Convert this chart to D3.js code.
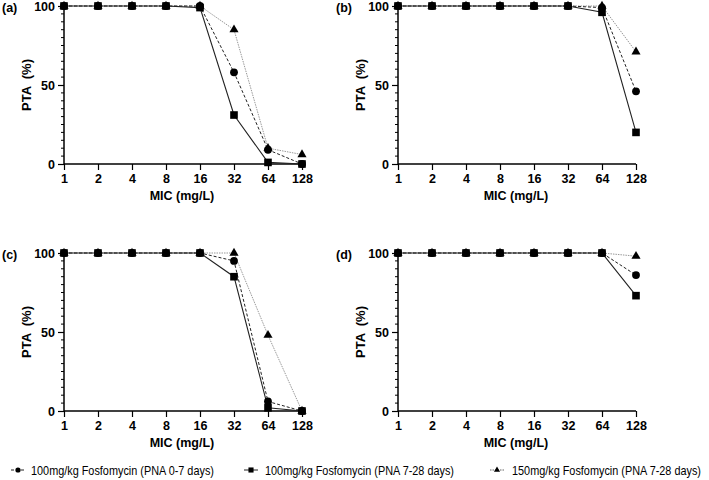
<!DOCTYPE html>
<html><head><meta charset="utf-8">
<script src="https://cdn.jsdelivr.net/npm/d3@7"></script>
<style>body{margin:0;background:#fff}svg{display:block}</style>
</head><body>
<svg id="c" width="709" height="480"></svg>
<script>
const categories = ["1","2","4","8","16","32","64","128"];
const yTicks = [0,50,100];
const seriesNames = ["100mg/kg Fosfomycin (PNA 0-7 days)","100mg/kg Fosfomycin (PNA 7-28 days)","150mg/kg Fosfomycin (PNA 7-28 days)"];
const panelLabels = ["(a)","(b)","(c)","(d)"];
// values per panel: [circle(0-7 d, 100), square(7-28 d, 100), triangle(7-28 d, 150)]
const panelA = [[100,100,100,100,100,58,9,0],[100,100,100,100,99,31,1,0],[100,100,100,100,100,85,10,6]];
const panelB = [[100,100,100,100,100,100,99,46],[100,100,100,100,100,100,96,20],[100,100,100,100,100,100,100,71]];
const panelC = [[100,100,100,100,100,95,6,0],[100,100,100,100,100,85,2,0],[100,100,100,100,100,100,48,0]];
const panelD = [[100,100,100,100,100,100,100,86],[100,100,100,100,100,100,100,73],[100,100,100,100,100,100,100,98]];
const panels = [panelA,panelB,panelC,panelD];

const svg = d3.select("#c");
const W = 238, H = 158;
const origins = [[64,6],[398,6],[64,253],[398,253]];
const styles = [
  {stroke:"#222", dash:"3,2", width:1, sym:d3.symbolCircle, size:48},
  {stroke:"#222", dash:null, width:1.1, sym:d3.symbolSquare, size:58},
  {stroke:"#999", dash:"1.5,1", width:1, sym:d3.symbolTriangle, size:36}
];
const drawOrder = [2,0,1];
const x = d3.scalePoint().domain(categories).range([0,W]);
const y = d3.scaleLinear().domain([0,100]).range([H,0]);
const boldFont = "Liberation Sans, Arial, sans-serif";

panels.forEach((pdata,pi)=>{
  const [ox,oy] = origins[pi];
  const g = svg.append("g").attr("transform",`translate(${ox},${oy})`);
  const minor = d3.range(0,101,5).filter(v=>v%50!==0);
  g.selectAll(".mt").data(minor).enter().append("line")
    .attr("x1",-3).attr("x2",0).attr("y1",d=>y(d)).attr("y2",d=>y(d))
    .attr("stroke","#000").attr("stroke-width",1);
  const ya = g.append("g").call(d3.axisLeft(y).tickValues(yTicks).tickSize(6).tickPadding(3));
  ya.select(".domain").attr("stroke-width",1.5).attr("d",`M0,${H+0.5}V0`);
  ya.selectAll(".tick line").attr("stroke-width",1.2);
  ya.selectAll("text").attr("font-family",boldFont).attr("font-weight","bold").attr("font-size",12.5).attr("fill","#000");
  const xa = g.append("g").attr("transform",`translate(0,${H})`).call(d3.axisBottom(x).tickSize(6).tickPadding(4));
  xa.select(".domain").attr("stroke-width",1.5).attr("d",`M0,0H${W}`);
  xa.selectAll(".tick line").attr("stroke-width",1.2);
  xa.selectAll("text").attr("font-family",boldFont).attr("font-weight","bold").attr("font-size",12.5).attr("fill","#000");
  g.append("text").attr("x",W/2-1).attr("y",H+36).attr("text-anchor","middle")
    .attr("font-family",boldFont).attr("font-weight","bold").attr("font-size",12.5).text("MIC (mg/L)");
  g.append("text").attr("transform",`translate(-33,${H/2}) rotate(-90)`).attr("text-anchor","middle")
    .attr("font-family",boldFont).attr("font-weight","bold").attr("font-size",13).attr("xml:space","preserve").text("PTA  (%)");
  g.append("text").attr("x",-62).attr("y",6).attr("font-family",boldFont).attr("font-weight","bold").attr("font-size",12.5).text(panelLabels[pi]);
  const line = d3.line().x((d,i)=>x(categories[i])).y(d=>y(d));
  drawOrder.forEach(si=>{
    const st = styles[si];
    g.append("path").datum(pdata[si]).attr("d",line).attr("fill","none")
      .attr("stroke",st.stroke).attr("stroke-width",st.width).attr("stroke-dasharray",st.dash);
  });
  drawOrder.forEach(si=>{
    const st = styles[si];
    g.selectAll(null).data(pdata[si]).enter().append("path")
      .attr("d",d3.symbol().type(st.sym).size(st.size))
      .attr("transform",(d,i)=>`translate(${x(categories[i])},${y(d)})`)
      .attr("fill","#000");
  });
});

// legend
const legX = [18,251,497];
const legTextX = [31,265,512];
const legY = 470;
seriesNames.forEach((name,i)=>{
  const st = styles[i];
  const lg = svg.append("g").attr("transform",`translate(${legX[i]},${legY})`);
  lg.append("line").attr("x1",-7).attr("x2",7).attr("y1",0).attr("y2",0)
    .attr("stroke",i===2?"#666":"#222").attr("stroke-width",1).attr("stroke-dasharray",st.dash);
  lg.append("path").attr("d",d3.symbol().type(st.sym).size(st.size*0.45)).attr("fill","#000");
  svg.append("text").attr("transform",`translate(${legTextX[i]},${legY+4.5}) scale(0.87,1)`)
    .attr("font-family","Liberation Sans, Arial, sans-serif")
    .attr("font-size",12.5).attr("fill","#000").text(name);
});
</script>
</body></html>
